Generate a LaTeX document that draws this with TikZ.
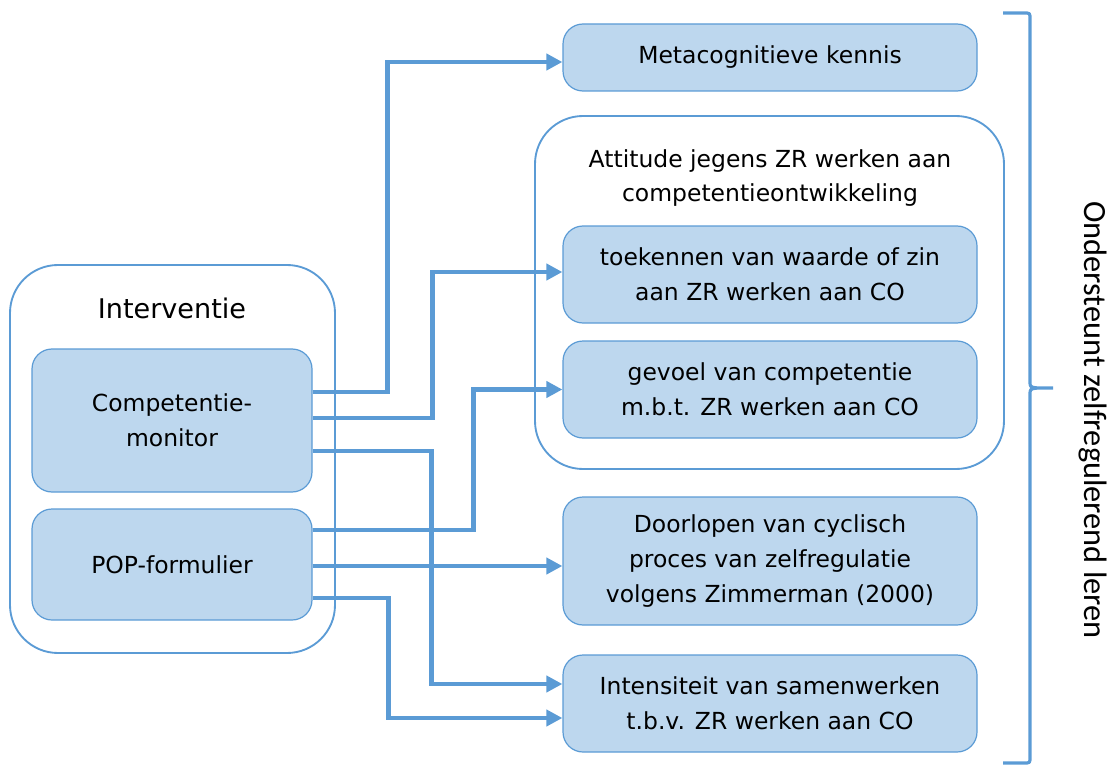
\documentclass[tikz,border=0pt]{standalone}
\usepackage{fontspec}
\setmainfont{DejaVu Sans}
\newfontfamily\bracefont{Carlito}
\usetikzlibrary{arrows.meta,calc}
\definecolor{boxfill}{HTML}{BDD7EE}
\definecolor{boxline}{HTML}{5B9BD5}

\begin{document}
\begin{tikzpicture}[x=0.75pt,y=-0.75pt,
  box/.style={draw=boxline, line width=0.9pt, fill=boxfill, rounded corners=15pt,
    align=center, inner sep=0pt, font=\fontsize{17.6}{26.2}\selectfont},
  frame/.style={draw=boxline, line width=1.4pt, rounded corners=36pt, inner sep=0pt},
  lbl/.style={align=center, inner sep=0pt, font=\fontsize{17.6}{25}\selectfont},
  conn/.style={draw=boxline, line width=3.2pt, -{Triangle[length=12pt,width=12pt]}}
]
\useasboundingbox (0,0) rectangle (1111,767);

% left group
\node[frame, minimum width=243.75pt, minimum height=291pt] (interv) at (172.5,459) {};
\node[lbl, font=\fontsize{20.3}{26}\selectfont] (intervlbl) at (172,308) {Interventie};
\node[box, minimum width=210pt, minimum height=107.25pt] (cm) at (172,420.5) {Competentie-\\monitor};
\node[box, minimum width=210pt, minimum height=83.25pt] (pop) at (172,564.5) {POP-formulier};

% right group
\node[box, minimum width=310.5pt, minimum height=50.25pt] (meta) at (770,57.5) {Metacognitieve kennis};
\node[frame, minimum width=351.75pt, minimum height=264.75pt] (att) at (769.5,292.5) {};
\node[lbl] (attlbl) at (770,178) {Attitude jegens ZR werken aan\\competentieontwikkeling};
\node[box, minimum width=310.5pt, minimum height=72.75pt] (waarde) at (770,274.5) {toekennen van waarde of zin\\aan ZR werken aan CO};
\node[box, minimum width=310.5pt, minimum height=72.75pt] (gevoel) at (770,389.5) {gevoel van competentie\\m.b.t. ZR werken aan CO};
\node[box, minimum width=310.5pt, minimum height=96pt] (cyclus) at (770,561) {Doorlopen van cyclisch\\proces van zelfregulatie\\volgens Zimmerman (2000)};
\node[box, minimum width=310.5pt, minimum height=72.75pt] (samen) at (770,703.5) {Intensiteit van samenwerken\\t.b.v. ZR werken aan CO};

% connectors
\draw[conn] ($(cm.east)+(0,-28.5)$) -- ++(75,0) |- ($(meta.west)+(0,4.5)$);
\draw[conn] ($(cm.east)+(0,-2.5)$) -- ++(120,0) |- ($(waarde.west)+(0,-2.5)$);
\draw[conn] ($(cm.east)+(0,30.5)$) -- ++(119,0) |- ($(samen.west)+(0,-19.5)$);
\draw[conn] ($(pop.east)+(0,-34.5)$) -- ++(161,0) |- (gevoel.west);
\draw[conn] ($(pop.east)+(0,1.5)$) -- ($(cyclus.west)+(0,5)$);
\draw[conn] ($(pop.east)+(0,33.5)$) -- ++(76,0) |- ($(samen.west)+(0,14.5)$);

% brace and its label
\draw[boxline, line width=2.4pt, line join=round]
  (1003,13) -- (1024,13) .. controls (1030,13) .. (1030,19) -- (1030,381)
  .. controls (1030,387) .. (1037,388) -- (1053,388);
\draw[boxline, line width=2.4pt, line join=round]
  (1037,388) .. controls (1030,389) .. (1030,395) -- (1030,757)
  .. controls (1030,763) .. (1024,763) -- (1003,763);
\node[rotate=-90, inner sep=0pt, font=\bracefont\fontsize{24.3}{28}\selectfont] (braceLbl) at (1093,420) {Ondersteunt zelfregulerend leren};
\end{tikzpicture}
\end{document}
